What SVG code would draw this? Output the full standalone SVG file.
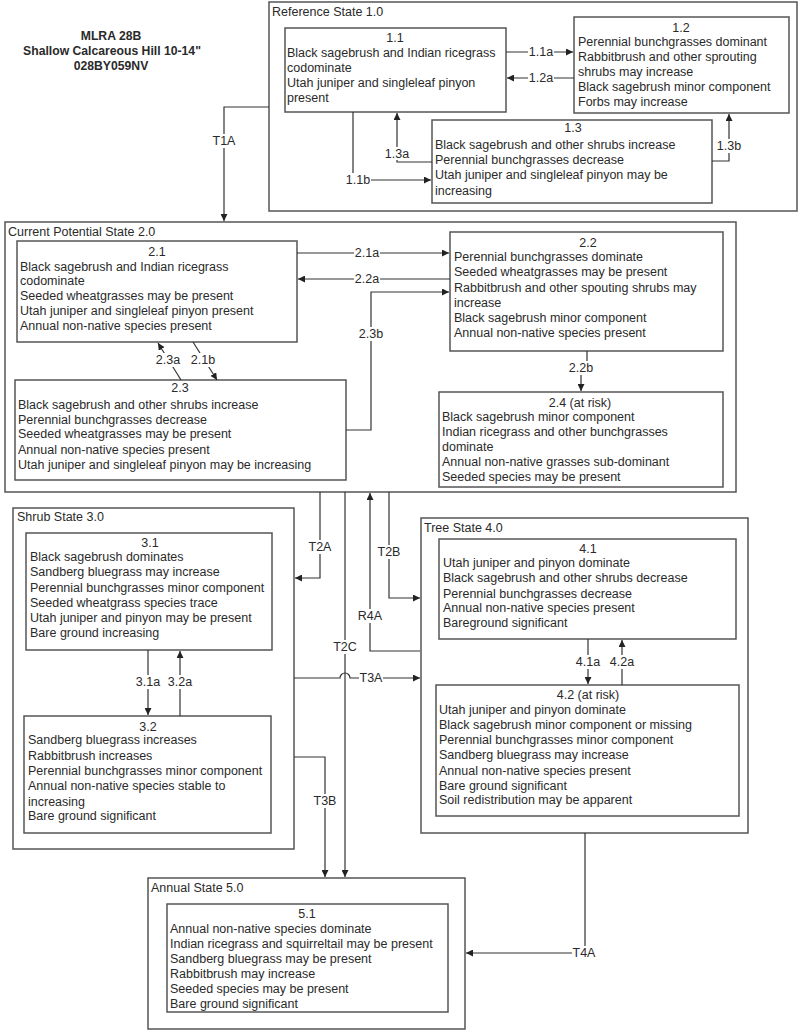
<svg xmlns="http://www.w3.org/2000/svg" width="800" height="1031" viewBox="0 0 800 1031">
<defs>
<marker id="ah" viewBox="0 0 10 10" refX="10" refY="5" markerWidth="7" markerHeight="7" markerUnits="userSpaceOnUse" orient="auto">
<path d="M0,0 L10,5 L0,10 z" fill="#222"/>
</marker>
<style>
text{font-family:"Liberation Sans",Arial,sans-serif;font-size:12.5px;fill:#2a2a2a}
.title{font-weight:bold;font-size:12.2px;text-anchor:middle}
.c{text-anchor:middle}
.st{fill:#fff;stroke:#555;stroke-width:1.5}
.bx{fill:#fff;stroke:#555;stroke-width:1.5}
.cnm{fill:none;stroke:#333;stroke-width:1.2;marker-end:url(#ah)}
.lb{text-anchor:middle}
.lbg{fill:#fff;stroke:none}
</style>
</defs>
<rect width="800" height="1031" fill="#fff"/>

<g id="title">
<text class="title" x="111" y="40">MLRA 28B</text>
<text class="title" x="112" y="55">Shallow Calcareous Hill 10-14"</text>
<text class="title" x="111" y="70">028BY059NV</text>
</g>

<g id="state1">
<rect class="st" x="269" y="2" width="528" height="209"/>
<text x="272" y="16">Reference State 1.0</text>
</g>
<g id="state2">
<rect class="st" x="5" y="222" width="731" height="270"/>
<text x="8" y="236">Current Potential State 2.0</text>
</g>
<g id="state3">
<rect class="st" x="13" y="508" width="281" height="341"/>
<text x="17" y="521">Shrub State 3.0</text>
</g>
<g id="state4">
<rect class="st" x="421" y="518" width="327" height="315"/>
<text x="424" y="532">Tree State 4.0</text>
</g>
<g id="state5">
<rect class="st" x="148" y="878" width="317" height="151"/>
<text x="151" y="892">Annual State 5.0</text>
</g>

<g id="n11">
<rect class="bx" x="285" y="28" width="221" height="84"/>
<text class="c" x="395" y="42">1.1</text>
<text x="287" y="57">Black sagebrush and Indian ricegrass</text>
<text x="287" y="72">codominate</text>
<text x="287" y="87">Utah juniper and singleleaf pinyon</text>
<text x="287" y="102">present</text>
</g>
<g id="n12">
<rect class="bx" x="574" y="17" width="215" height="96"/>
<text class="c" x="681" y="32">1.2</text>
<text x="578" y="46">Perennial bunchgrasses dominant</text>
<text x="578" y="61">Rabbitbrush and other sprouting</text>
<text x="578" y="76">shrubs may increase</text>
<text x="578" y="91">Black sagebrush minor component</text>
<text x="578" y="106">Forbs may increase</text>
</g>
<g id="n13">
<rect class="bx" x="432" y="120" width="280" height="83"/>
<text class="c" x="573" y="132">1.3</text>
<text x="435" y="149">Black sagebrush and other shrubs increase</text>
<text x="435" y="164">Perennial bunchgrasses decrease</text>
<text x="435" y="179">Utah juniper and singleleaf pinyon may be</text>
<text x="435" y="195">increasing</text>
</g>

<g id="n21">
<rect class="bx" x="17" y="241" width="280" height="101"/>
<text class="c" x="157" y="256">2.1</text>
<text x="20" y="271">Black sagebrush and Indian ricegrass</text>
<text x="20" y="285">codominate</text>
<text x="20" y="300">Seeded wheatgrasses may be present</text>
<text x="20" y="315">Utah juniper and singleleaf pinyon present</text>
<text x="20" y="330">Annual non-native species present</text>
</g>
<g id="n22">
<rect class="bx" x="450" y="232" width="273" height="119"/>
<text class="c" x="588" y="247">2.2</text>
<text x="454" y="261">Perennial bunchgrasses dominate</text>
<text x="454" y="276">Seeded wheatgrasses may be present</text>
<text x="454" y="292">Rabbitbrush and other spouting shrubs may</text>
<text x="454" y="307">increase</text>
<text x="454" y="322">Black sagebrush minor component</text>
<text x="454" y="337">Annual non-native species present</text>
</g>
<g id="n23">
<rect class="bx" x="15" y="380" width="331" height="100"/>
<text class="c" x="180" y="392">2.3</text>
<text x="18" y="409">Black sagebrush and other shrubs increase</text>
<text x="18" y="424">Perennial bunchgrasses decrease</text>
<text x="18" y="438">Seeded wheatgrasses may be present</text>
<text x="18" y="454">Annual non-native species present</text>
<text x="18" y="469">Utah juniper and singleleaf pinyon may be increasing</text>
</g>
<g id="n24">
<rect class="bx" x="439" y="392" width="284" height="95"/>
<text class="c" x="580" y="407">2.4 (at risk)</text>
<text x="442" y="421">Black sagebrush minor component</text>
<text x="442" y="436">Indian ricegrass and other bunchgrasses</text>
<text x="442" y="451">dominate</text>
<text x="442" y="466">Annual non-native grasses sub-dominant</text>
<text x="442" y="481">Seeded species may be present</text>
</g>

<g id="n31">
<rect class="bx" x="26" y="533" width="246" height="117"/>
<text class="c" x="150" y="547">3.1</text>
<text x="30" y="561">Black sagebrush dominates</text>
<text x="30" y="576">Sandberg bluegrass may increase</text>
<text x="30" y="592">Perennial bunchgrasses minor component</text>
<text x="30" y="607">Seeded wheatgrass species trace</text>
<text x="30" y="622">Utah juniper and pinyon may be present</text>
<text x="30" y="637">Bare ground increasing</text>
</g>
<g id="n32">
<rect class="bx" x="24" y="716" width="247" height="117"/>
<text class="c" x="148" y="731">3.2</text>
<text x="28" y="744">Sandberg bluegrass increases</text>
<text x="28" y="760">Rabbitbrush increases</text>
<text x="28" y="775">Perennial bunchgrasses minor component</text>
<text x="28" y="790">Annual non-native species stable to</text>
<text x="28" y="806">increasing</text>
<text x="28" y="820">Bare ground significant</text>
</g>

<g id="n41">
<rect class="bx" x="439" y="539" width="297" height="100"/>
<text class="c" x="588" y="553">4.1</text>
<text x="443" y="567">Utah juniper and pinyon dominate</text>
<text x="443" y="582">Black sagebrush and other shrubs decrease</text>
<text x="443" y="598">Perennial bunchgrasses decrease</text>
<text x="443" y="612">Annual non-native species present</text>
<text x="443" y="627">Bareground significant</text>
</g>
<g id="n42">
<rect class="bx" x="436" y="685" width="303" height="131"/>
<text class="c" x="588" y="699">4.2 (at risk)</text>
<text x="439" y="714">Utah juniper and pinyon dominate</text>
<text x="439" y="729">Black sagebrush minor component or missing</text>
<text x="439" y="744">Perennial bunchgrasses minor component</text>
<text x="439" y="759">Sandberg bluegrass may increase</text>
<text x="439" y="775">Annual non-native species present</text>
<text x="439" y="790">Bare ground significant</text>
<text x="439" y="804">Soil redistribution may be apparent</text>
</g>

<g id="n51">
<rect class="bx" x="167" y="904" width="281" height="108"/>
<text class="c" x="307" y="918">5.1</text>
<text x="170" y="933">Annual non-native species dominate</text>
<text x="170" y="948">Indian ricegrass and squirreltail may be present</text>
<text x="170" y="963">Sandberg bluegrass may be present</text>
<text x="170" y="978">Rabbitbrush may increase</text>
<text x="170" y="993">Seeded species may be present</text>
<text x="170" y="1008">Bare ground significant</text>
</g>

<g id="connectors">
<path class="cnm" d="M506,52 H573"/>
<path class="cnm" d="M574,78 H507"/>
<path class="cnm" d="M353,112 V180 H431"/>
<path class="cnm" d="M432,162 H397 V113"/>
<path class="cnm" d="M712,161 H729 V114"/>
<path class="cnm" d="M269,107 H224 V221"/>
<path class="cnm" d="M297,253 H449"/>
<path class="cnm" d="M450,279 H298"/>
<path class="cnm" d="M346,430 H371 V292 H449"/>
<path class="cnm" d="M181,380 L158,343"/>
<path class="cnm" d="M193,342 L217,380"/>
<path class="cnm" d="M587,351 V364 L581,372 V391"/>
<path class="cnm" d="M148,650 V715"/>
<path class="cnm" d="M180,716 V651"/>
<path class="cnm" d="M588,639 V684"/>
<path class="cnm" d="M622,685 V640"/>
<path class="cnm" d="M320,492 V578 H295"/>
<path class="cnm" d="M345,492 V877"/>
<path class="cnm" d="M420,651 H370 V493"/>
<path class="cnm" d="M389,492 V598 H420"/>
<path class="cnm" d="M294,678 H340 A5,5 0 0 1 350,678 H420"/>
<path class="cnm" d="M294,757 H325 V877"/>
<path class="cnm" d="M585,833 V953 H466"/>

<g class="lbg">
<rect x="528" y="46" width="26" height="13"/>
<rect x="528" y="72" width="26" height="13"/>
<rect x="344" y="173" width="27" height="14"/>
<rect x="384" y="147" width="26" height="13"/>
<rect x="716" y="139" width="26" height="14"/>
<rect x="211" y="134" width="26" height="14"/>
<rect x="354" y="246" width="26" height="13"/>
<rect x="354" y="272" width="26" height="13"/>
<rect x="358" y="327" width="26" height="14"/>
<rect x="155" y="353" width="26" height="14"/>
<rect x="190" y="353" width="26" height="14"/>
<rect x="568" y="361" width="26" height="14"/>
<rect x="135" y="675" width="26" height="14"/>
<rect x="167" y="675" width="26" height="14"/>
<rect x="575" y="655" width="26" height="14"/>
<rect x="609" y="655" width="26" height="14"/>
<rect x="308" y="540" width="24" height="14"/>
<rect x="377" y="545" width="24" height="14"/>
<rect x="357" y="609" width="26" height="14"/>
<rect x="333" y="640" width="24" height="14"/>
<rect x="359" y="672" width="24" height="13"/>
<rect x="313" y="794" width="24" height="14"/>
<rect x="572" y="946" width="24" height="14"/>
</g>
<text class="lb" x="541" y="56">1.1a</text>
<text class="lb" x="541" y="82">1.2a</text>
<text class="lb" x="358" y="184">1.1b</text>
<text class="lb" x="397" y="158">1.3a</text>
<text class="lb" x="729" y="150">1.3b</text>
<text class="lb" x="224" y="145">T1A</text>
<text class="lb" x="367" y="257">2.1a</text>
<text class="lb" x="367" y="283">2.2a</text>
<text class="lb" x="371" y="338">2.3b</text>
<text class="lb" x="168" y="364">2.3a</text>
<text class="lb" x="203" y="364">2.1b</text>
<text class="lb" x="581" y="372">2.2b</text>
<text class="lb" x="148" y="686">3.1a</text>
<text class="lb" x="180" y="686">3.2a</text>
<text class="lb" x="588" y="666">4.1a</text>
<text class="lb" x="622" y="666">4.2a</text>
<text class="lb" x="320" y="551">T2A</text>
<text class="lb" x="389" y="556">T2B</text>
<text class="lb" x="370" y="620">R4A</text>
<text class="lb" x="345" y="651">T2C</text>
<text class="lb" x="371" y="682">T3A</text>
<text class="lb" x="325" y="805">T3B</text>
<text class="lb" x="584" y="957">T4A</text>
</g>
</svg>
